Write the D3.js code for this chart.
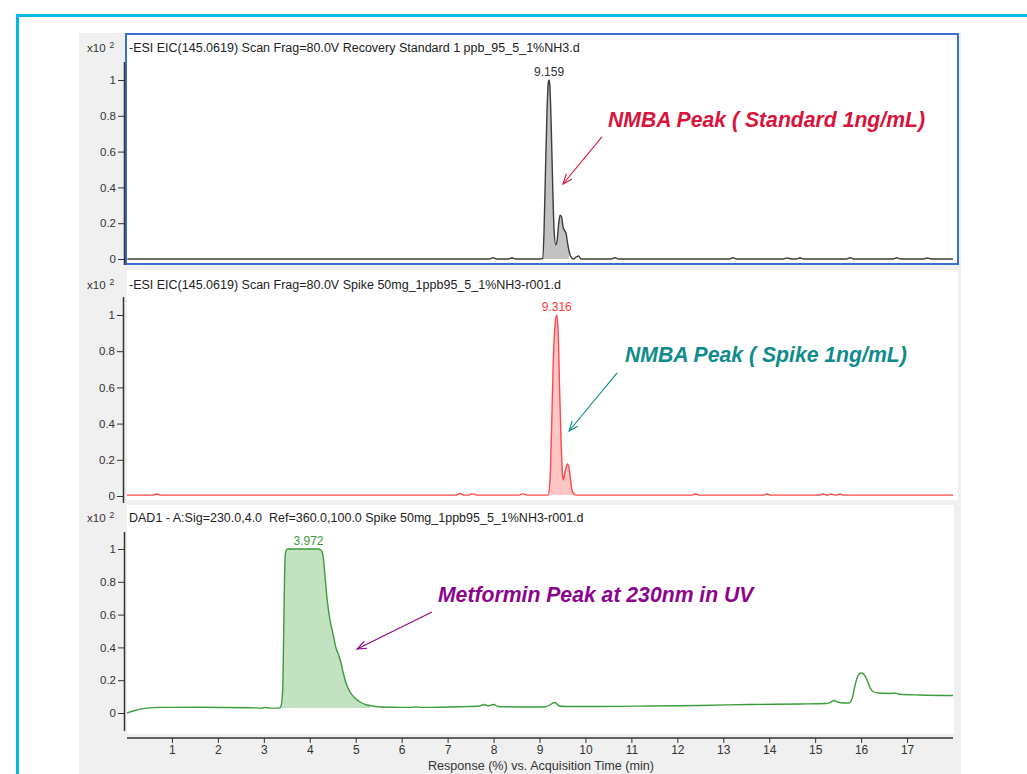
<!DOCTYPE html>
<html><head><meta charset="utf-8">
<script src="https://cdn.jsdelivr.net/npm/d3@7"></script>
<style>
body{margin:0;background:#fff;}
svg{display:block;}
text{font-family:"Liberation Sans",Arial,sans-serif;white-space:pre;}
</style>
</head><body>
<svg id="c" width="1027" height="774"></svg>
<script>
// ---------------- DATA ----------------
const timeTicks = [1,2,3,4,5,6,7,8,9,10,11,12,13,14,15,16,17];
const yTicks = [0,0.2,0.4,0.6,0.8,1];
const yTickLabels = ["0","0.2","0.4","0.6","0.8","1"];
const panelTitles = [
  "-ESI EIC(145.0619) Scan Frag=80.0V Recovery Standard 1 ppb_95_5_1%NH3.d",
  "-ESI EIC(145.0619) Scan Frag=80.0V Spike 50mg_1ppb95_5_1%NH3-r001.d",
  "DAD1 - A:Sig=230.0,4.0  Ref=360.0,100.0 Spike 50mg_1ppb95_5_1%NH3-r001.d"
];
const peakLabels = ["9.159","9.316","3.972"];
const peakLabelTimes = [9.208, 9.375, 3.972];
const annotationTexts = ["NMBA Peak ( Standard 1ng/mL)","NMBA Peak ( Spike 1ng/mL)","Metformin Peak at 230nm in UV"];
const annotationTextPos = [[10.49,0.737],[10.86,0.74],[6.79,0.677]];
const annotationArrowFrom = [[10.36,0.682],[10.69,0.68],[6.66,0.616]];
const annotationArrowTo = [[9.512,0.419],[9.643,0.359],[5.03,0.39]];

// Standard (panel 1)
const stdTime = [0.03,0.6,1.5,2.4,3.3,4.2,5.1,6.0,6.9,7.6,7.91,7.99,8.07,8.32,8.40,8.48,9.012,9.070,9.099,9.131,9.164,9.190,9.208,9.225,9.251,9.284,9.316,9.353,9.382,9.415,9.447,9.480,9.512,9.545,9.577,9.610,9.643,9.686,9.730,9.795,9.850,9.904,10.2,10.56,10.64,10.72,11.5,12.3,13.13,13.21,13.29,14.31,14.39,14.50,14.59,14.67,14.75,15.68,15.76,15.84,16.70,16.78,16.86,17.36,17.44,17.52,18.0];
const stdValue = [0,0,0,0,0,0,0,0,0,0,0,0.007,0,0,0.007,0,0,0.003,0.16,0.50,0.83,0.98,1.0,0.97,0.78,0.44,0.17,0.08,0.10,0.19,0.245,0.235,0.18,0.16,0.145,0.09,0.045,0.01,0,0.01,0.017,0,0,0,0.007,0,0,0,0,0.007,0,0,0.006,0,0,0.007,0,0,0.007,0,0,0.007,0,0,0.006,0,0];

// Spike (panel 2)
const spikeTime = [0.02,0.58,0.67,0.76,2.0,4.0,6.0,7.18,7.27,7.36,7.46,7.55,7.64,8.55,8.64,8.73,9.10,
  9.186,9.229,9.262,9.295,9.338,9.375,9.404,9.436,9.469,9.502,9.523,9.556,9.589,9.610,9.643,9.676,9.708,9.752,9.795,
  10.5,12.3,12.39,12.48,13.86,13.95,14.04,15.08,15.17,15.26,15.35,15.45,15.54,15.63,16.5,18.0];
const spikeValue = [0.005,0.005,0.011,0.005,0.005,0.005,0.005,0.005,0.014,0.005,0.005,0.012,0.005,0.005,0.012,0.005,0.005,
  0.005,0.09,0.36,0.70,0.945,1.0,0.92,0.61,0.31,0.116,0.088,0.133,0.166,0.177,0.155,0.088,0.033,0.011,0.005,
  0.005,0.005,0.011,0.005,0.005,0.011,0.005,0.005,0.011,0.005,0.011,0.005,0.011,0.005,0.005,0.005];

// UV 230 nm (panel 3)
const uvTime = [0.022,0.152,0.305,0.457,0.740,1.611,2.70,2.96,3.03,3.13,3.33,3.374,3.41,3.43,3.45,3.47,3.515,4.18,4.245,4.29,4.33,4.375,4.44,4.506,4.571,4.637,4.68,4.724,4.789,4.876,4.985,5.094,5.246,5.311,5.42,5.747,6.18,6.31,6.44,6.835,7.27,7.705,7.793,7.88,8.01,8.098,8.576,9.077,9.164,9.338,9.425,9.556,10.318,11.406,12.49,13.58,14.67,15.237,15.32,15.41,15.49,15.63,15.74,15.807,15.87,15.94,16.0,16.07,16.13,16.20,16.26,16.37,16.63,16.74,16.85,17.28,18.0];
const uvValue = [0,0.012,0.024,0.030,0.034,0.035,0.032,0.030,0.034,0.030,0.030,0.043,0.14,0.445,0.81,0.975,1.0,1.0,0.994,0.957,0.84,0.70,0.567,0.482,0.396,0.348,0.305,0.25,0.183,0.128,0.091,0.067,0.049,0.046,0.040,0.035,0.034,0.037,0.034,0.035,0.038,0.043,0.052,0.043,0.052,0.040,0.037,0.037,0.040,0.064,0.043,0.040,0.040,0.043,0.046,0.052,0.055,0.058,0.064,0.076,0.067,0.061,0.061,0.091,0.171,0.232,0.244,0.232,0.201,0.152,0.131,0.122,0.119,0.121,0.114,0.110,0.107];

// ---------------- LAYOUT ----------------
const svg = d3.select("#c");
svg.append("rect").attr("width",1027).attr("height",774).attr("fill","#fff");
svg.append("rect").attr("x",79).attr("y",33).attr("width",882).attr("height",741).attr("fill","#f0f0f0");
svg.append("rect").attr("x",16).attr("y",14).attr("width",1011).attr("height",3).attr("fill","#00b7e8");
svg.append("rect").attr("x",16).attr("y",14).attr("width",3).attr("height",760).attr("fill","#00b7e8");

const x = d3.scaleLinear().domain([0,18]).range([126,953]);

const panels = [
  {time:stdTime, value:stdValue, y0:259, y1:80, axisX:124, axisTop:62, axisBot:265, bg:[125,33,834,232], titleY:52,
   line:"#3c3c3c", fill:"#c2c2c2", fillFrom:9.07, fillTo:9.643, fillBase:0, peakColor:"#333", annColor:"#d8143c", border:true},
  {time:spikeTime, value:spikeValue, y0:496, y1:315, axisX:123, axisTop:297, axisBot:503, bg:[127,270,831,230], titleY:289,
   line:"#ff4848", fill:"#ffc6c6", fillFrom:9.186, fillTo:9.752, fillBase:0.005, peakColor:"#ff3838", annColor:"#0f8b8d", border:false},
  {time:uvTime, value:uvValue, y0:713, y1:549, axisX:124, axisTop:532, axisBot:731, bg:[127,505,827,229], titleY:522,
   line:"#3a9c3a", fill:"#c2e2c2", fillFrom:3.374, fillTo:5.311, fillBase:0.03, peakColor:"#3a9a3a", annColor:"#8c048c", border:false}
];

const defs = svg.append("defs");

panels.forEach((p,i)=>{
  const y = d3.scaleLinear().domain([0,1]).range([p.y0,p.y1]);
  const [bx,by,bw,bh] = p.bg;
  svg.append("rect").attr("x",bx).attr("y",by).attr("width",bw).attr("height",bh).attr("fill","#fff");
  defs.append("clipPath").attr("id","clip"+i).append("rect").attr("x",bx).attr("y",by).attr("width",bw).attr("height",bh);

  const pts = p.time.map((t,k)=>[t,p.value[k]]);
  const g = svg.append("g").attr("clip-path","url(#clip"+i+")");
  const fillPts = pts.filter(d=>d[0]>=p.fillFrom-1e-9 && d[0]<=p.fillTo+1e-9);
  g.append("path").datum(fillPts)
    .attr("d", d3.area().x(d=>x(d[0])).y0(y(p.fillBase)).y1(d=>y(d[1])).curve(d3.curveMonotoneX))
    .attr("fill",p.fill);
  g.append("path").datum(pts)
    .attr("d", d3.line().x(d=>x(d[0])).y(d=>y(d[1])).curve(d3.curveMonotoneX))
    .attr("fill","none").attr("stroke",p.line).attr("stroke-width",1.4);

  if(p.border){
    svg.append("rect").attr("x",bx+1).attr("y",by+1).attr("width",bw-2).attr("height",bh-2)
      .attr("fill","none").attr("stroke","#3a6fd2").attr("stroke-width",2);
  }

  const ax = svg.append("g").attr("transform",`translate(${p.axisX},0)`)
    .call(d3.axisLeft(y).tickValues(yTicks).tickFormat((d,k)=>yTickLabels[k]).tickSize(6).tickPadding(2).tickSizeOuter(0));
  ax.select(".domain").remove();
  ax.selectAll(".tick line").attr("stroke","#333");
  ax.selectAll(".tick text").attr("fill","#333").style("font-size","11.5px").style("font-family","'Liberation Sans',Arial,sans-serif");
  svg.append("line").attr("x1",p.axisX+0.5).attr("x2",p.axisX+0.5).attr("y1",p.axisTop).attr("y2",p.axisBot)
    .attr("stroke","#333").attr("stroke-width",1.5);

  svg.append("text").attr("x",87).attr("y",p.titleY).attr("font-size",11.5).attr("fill","#333").text("x10");
  svg.append("text").attr("x",109.5).attr("y",p.titleY-4).attr("font-size",8.5).attr("fill","#333").text("2");
  svg.append("text").attr("x",129).attr("y",p.titleY).attr("font-size",12.5).attr("fill","#222").text(panelTitles[i]);
  svg.append("text").attr("x",x(peakLabelTimes[i])).attr("y",y(1)-4).attr("text-anchor","middle")
    .attr("font-size",12).attr("fill",p.peakColor).text(peakLabels[i]);

  const mid = "arr"+i;
  defs.append("marker").attr("id",mid).attr("markerUnits","userSpaceOnUse")
    .attr("markerWidth",12).attr("markerHeight",10).attr("refX",10).attr("refY",4).attr("orient","auto")
    .append("path").attr("d","M0,0 L10,4 L0,8").attr("fill","none").attr("stroke",p.annColor).attr("stroke-width",1.1);
  const af = annotationArrowFrom[i], at = annotationArrowTo[i];
  svg.append("line").attr("x1",x(af[0])).attr("y1",y(af[1])).attr("x2",x(at[0])).attr("y2",y(at[1]))
    .attr("stroke",p.annColor).attr("stroke-width",1.1).attr("marker-end","url(#"+mid+")");
  const tp = annotationTextPos[i];
  svg.append("text").attr("x",x(tp[0])).attr("y",y(tp[1])).attr("font-size",21.2).attr("font-weight","bold")
    .attr("font-style","italic").attr("fill",p.annColor).text(annotationTexts[i]);
});

const xa = svg.append("g").attr("transform","translate(0,738)")
  .call(d3.axisBottom(x).tickValues(timeTicks).tickSize(5).tickPadding(2).tickSizeOuter(0));
xa.select(".domain").remove();
xa.selectAll(".tick line").attr("stroke","#333");
xa.selectAll(".tick text").attr("fill","#333").style("font-size","12px").style("font-family","'Liberation Sans',Arial,sans-serif");
svg.append("line").attr("x1",127).attr("x2",953).attr("y1",738).attr("y2",738).attr("stroke","#333").attr("stroke-width",1.5);
svg.append("text").attr("x",541).attr("y",770).attr("text-anchor","middle").attr("font-size",12.6).attr("fill","#333")
  .text("Response (%) vs. Acquisition Time (min)");
</script>
</body></html>
